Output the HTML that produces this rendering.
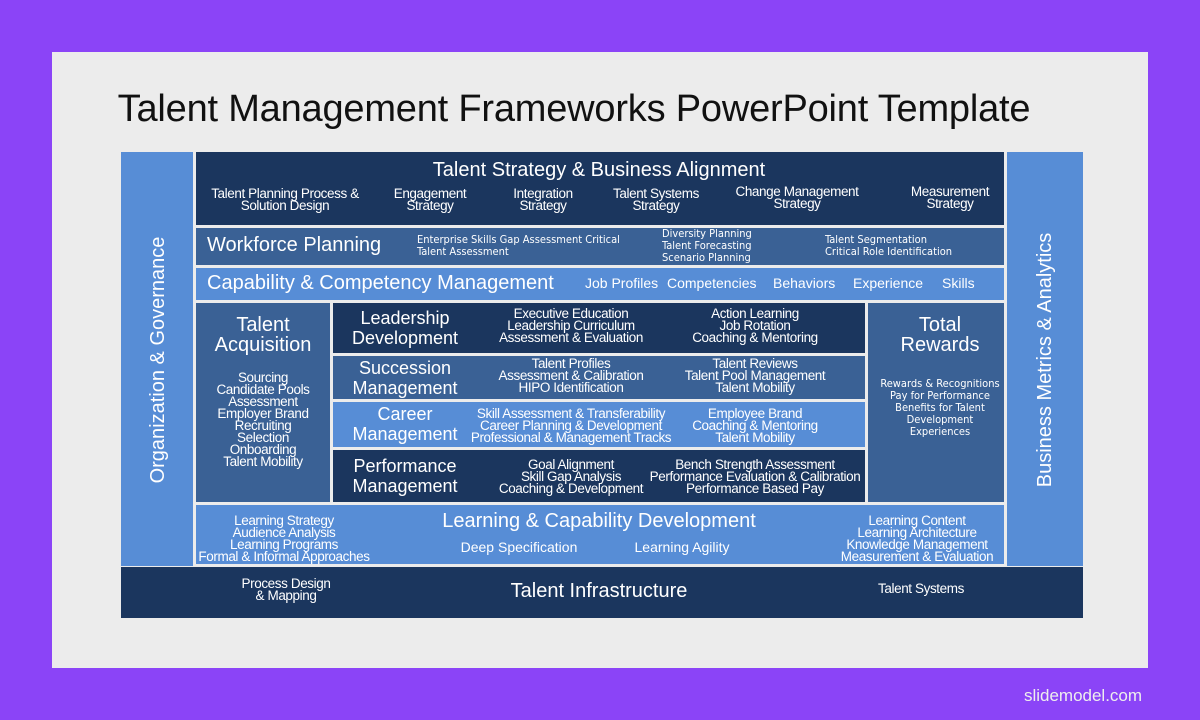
<!DOCTYPE html>
<html><head><meta charset="utf-8"><style>
*{margin:0;padding:0;box-sizing:border-box}
body{width:1200px;height:720px;background:#8b44f7;position:relative;overflow:hidden;font-family:"Liberation Sans",Arial,sans-serif}
.slide{position:absolute;left:52px;top:52px;width:1096px;height:616px;background:#ececec}
.b{position:absolute}
.d{background:#1b365e}.m{background:#3a6195}.l{background:#578dd6}
.t{position:absolute;color:#fff;text-align:center;white-space:nowrap;transform:translateX(-50%);font-size:13px;line-height:12px;letter-spacing:-0.3px}
.s{font-size:13.5px;line-height:12px;letter-spacing:-0.4px}
.h{font-size:20px;line-height:20px;letter-spacing:0}
.h2{font-size:20px;line-height:21px;letter-spacing:0}
.c{font-family:"DejaVu Sans Condensed","DejaVu Sans",sans-serif;font-size:11px;line-height:12px;letter-spacing:0}
.tl{transform:none;text-align:left}
.g{font-size:18px;line-height:20px;letter-spacing:0}
</style></head><body>
<div class="slide"></div>
<div class="t" style="left:574px;top:87px;font-size:38px;line-height:44px;color:#111;letter-spacing:-0.2px">Talent Management Frameworks PowerPoint Template</div>
<div class="t" style="left:1083px;top:686px;font-size:17px;line-height:20px;color:#eee;letter-spacing:0">slidemodel.com</div>

<div class="b l" style="left:121px;top:152px;width:72px;height:414px"></div>
<div class="b l" style="left:1007px;top:152px;width:76px;height:414px"></div>
<div class="b d" style="left:196px;top:152px;width:808px;height:73px"></div>
<div class="b m" style="left:196px;top:228px;width:808px;height:37px"></div>
<div class="b l" style="left:196px;top:268px;width:808px;height:32px"></div>
<div class="b m" style="left:196px;top:303px;width:134px;height:199px"></div>
<div class="b d" style="left:333px;top:303px;width:532px;height:50px"></div>
<div class="b m" style="left:333px;top:356px;width:532px;height:43px"></div>
<div class="b l" style="left:333px;top:402px;width:532px;height:45px"></div>
<div class="b d" style="left:333px;top:450px;width:532px;height:52px"></div>
<div class="b m" style="left:868px;top:303px;width:136px;height:199px"></div>
<div class="b l" style="left:196px;top:505px;width:808px;height:59px"></div>
<div class="b d" style="left:121px;top:567px;width:962px;height:51px"></div>

<div class="t" style="left:158px;font-size:20px;line-height:22px;letter-spacing:0;transform:translate(-50%,-50%) rotate(-90deg);top:360px">Organization &amp; Governance</div>
<div class="t" style="left:1045px;top:360px;font-size:20px;line-height:22px;letter-spacing:0;transform:translate(-50%,-50%) rotate(-90deg)">Business Metrics &amp; Analytics</div>

<div class="t h" style="left:599px;top:160px">Talent Strategy &amp; Business Alignment</div>
<div class="t s" style="left:285px;top:188px">Talent Planning Process &amp;<br>Solution Design</div>
<div class="t s" style="left:430px;top:188px">Engagement<br>Strategy</div>
<div class="t s" style="left:543px;top:188px">Integration<br>Strategy</div>
<div class="t s" style="left:656px;top:188px">Talent Systems<br>Strategy</div>
<div class="t s" style="left:797px;top:186px">Change Management<br>Strategy</div>
<div class="t s" style="left:950px;top:186px">Measurement<br>Strategy</div>

<div class="t h2 tl" style="left:207px;top:235px">Workforce Planning</div>
<div class="t c tl" style="left:417px;top:234px">Enterprise Skills Gap Assessment Critical<br>Talent Assessment</div>
<div class="t c tl" style="left:662px;top:228px">Diversity Planning<br>Talent Forecasting<br>Scenario Planning</div>
<div class="t c tl" style="left:825px;top:234px">Talent Segmentation<br>Critical Role Identification</div>

<div class="t h tl" style="left:207px;top:273px">Capability &amp; Competency Management</div>
<div class="t tl" style="left:585px;top:276px;font-size:14px;line-height:14px;letter-spacing:0">Job Profiles</div>
<div class="t tl" style="left:667px;top:276px;font-size:14px;line-height:14px;letter-spacing:0">Competencies</div>
<div class="t tl" style="left:773px;top:276px;font-size:14px;line-height:14px;letter-spacing:0">Behaviors</div>
<div class="t tl" style="left:853px;top:276px;font-size:14px;line-height:14px;letter-spacing:0">Experience</div>
<div class="t tl" style="left:942px;top:276px;font-size:14px;line-height:14px;letter-spacing:0">Skills</div>

<div class="t h" style="left:263px;top:315px">Talent<br>Acquisition</div>
<div class="t s" style="left:263px;top:372px">Sourcing<br>Candidate Pools<br>Assessment<br>Employer Brand<br>Recruiting<br>Selection<br>Onboarding<br>Talent Mobility</div>

<div class="t g" style="left:405px;top:308px">Leadership<br>Development</div>
<div class="t s" style="left:571px;top:308px">Executive Education<br>Leadership Curriculum<br>Assessment &amp; Evaluation</div>
<div class="t s" style="left:755px;top:308px">Action Learning<br>Job Rotation<br>Coaching &amp; Mentoring</div>

<div class="t g" style="left:405px;top:358px">Succession<br>Management</div>
<div class="t s" style="left:571px;top:358px">Talent Profiles<br>Assessment &amp; Calibration<br>HIPO Identification</div>
<div class="t s" style="left:755px;top:358px">Talent Reviews<br>Talent Pool Management<br>Talent Mobility</div>

<div class="t g" style="left:405px;top:404px">Career<br>Management</div>
<div class="t s" style="left:571px;top:408px">Skill Assessment &amp; Transferability<br>Career Planning &amp; Development<br>Professional &amp; Management Tracks</div>
<div class="t s" style="left:755px;top:408px">Employee Brand<br>Coaching &amp; Mentoring<br>Talent Mobility</div>

<div class="t g" style="left:405px;top:456px">Performance<br>Management</div>
<div class="t s" style="left:571px;top:459px">Goal Alignment<br>Skill Gap Analysis<br>Coaching &amp; Development</div>
<div class="t s" style="left:755px;top:459px">Bench Strength Assessment<br>Performance Evaluation &amp; Calibration<br>Performance Based Pay</div>

<div class="t h" style="left:940px;top:315px">Total<br>Rewards</div>
<div class="t c" style="left:940px;top:378px">Rewards &amp; Recognitions<br>Pay for Performance<br>Benefits for Talent<br>Development<br>Experiences</div>

<div class="t h" style="left:599px;top:511px">Learning &amp; Capability Development</div>
<div class="t s" style="left:284px;top:515px">Learning Strategy<br>Audience Analysis<br>Learning Programs<br>Formal &amp; Informal Approaches</div>
<div class="t" style="left:519px;top:540px;font-size:14px;line-height:14px;letter-spacing:0">Deep Specification</div>
<div class="t" style="left:682px;top:540px;font-size:14px;line-height:14px;letter-spacing:0">Learning Agility</div>
<div class="t s" style="left:917px;top:515px">Learning Content<br>Learning Architecture<br>Knowledge Management<br>Measurement &amp; Evaluation</div>

<div class="t s" style="left:286px;top:578px">Process Design<br>&amp; Mapping</div>
<div class="t h" style="left:599px;top:581px">Talent Infrastructure</div>
<div class="t s" style="left:921px;top:583px">Talent Systems</div>
</body></html>
